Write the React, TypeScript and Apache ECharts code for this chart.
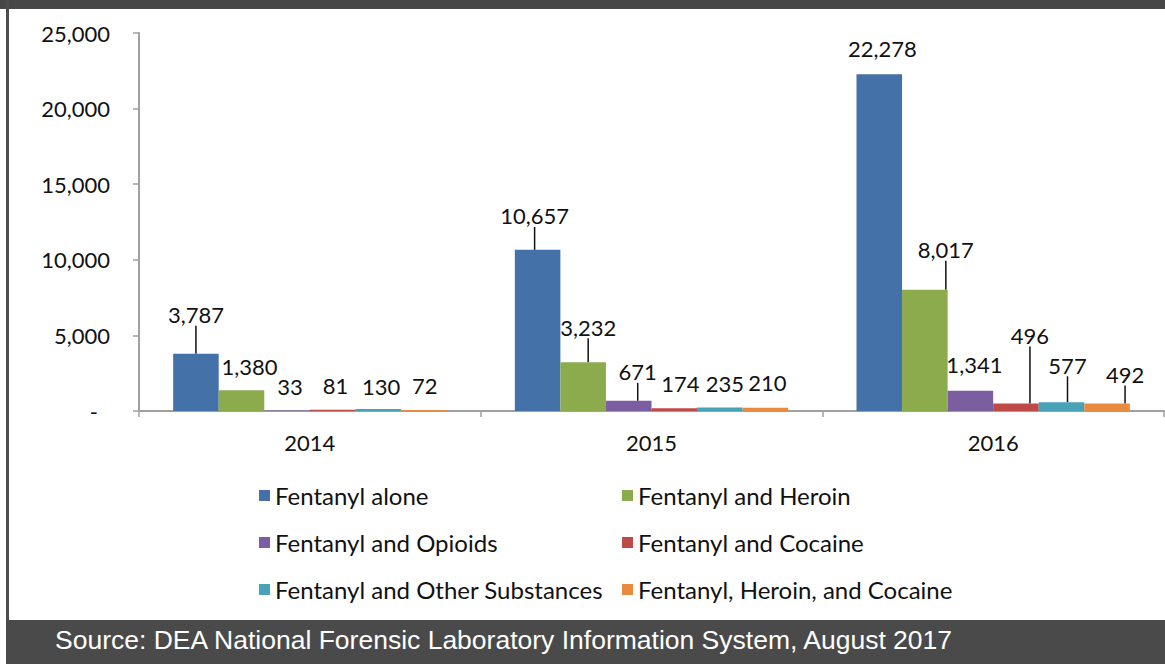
import React, { useEffect, useRef } from "react";
import * as echarts from "echarts";

// ---- data ----
const years = ["2014", "2015", "2016"];
const seriesNames = [
  "Fentanyl alone",
  "Fentanyl and Heroin",
  "Fentanyl and Opioids",
  "Fentanyl and Cocaine",
  "Fentanyl and Other Substances",
  "Fentanyl, Heroin, and Cocaine",
];
const fentanylAlone = [3787, 10657, 22278];
const fentanylAndHeroin = [1380, 3232, 8017];
const fentanylAndOpioids = [33, 671, 1341];
const fentanylAndCocaine = [81, 174, 496];
const fentanylAndOther = [130, 235, 577];
const fentanylHeroinCocaine = [72, 210, 492];
const yMin = 0;
const yMax = 25000;
const yStep = 5000;
const sourceText = "Source: DEA National Forensic Laboratory Information System, August 2017";

// ---- styles ----
const colors = ["#4471a8", "#8bab4d", "#7b5e9f", "#bd4a47", "#48a2b8", "#e98a3e"];
// label shifts [dx, dy, leaderLine] per series / year (Excel moved labels)
const labelShifts: [number, number, boolean][][] = [
  [[0, -23, true], [-3, -18, true], [3, -10, false]],
  [[8, -8, false], [5, -19, true], [21, -24, true]],
  [[3, -8, false], [9, -13, true], [4, -10, false]],
  [[3, -8, false], [6, -9, false], [14, -52, true]],
  [[3, -7, false], [5, -8, false], [6, -21, true]],
  [[1, -8, false], [2, -9, false], [18, -13, true]],
];
const FONT = "Lato, 'Open Sans', sans-serif";

export default function App() {
  const ref = useRef<HTMLDivElement>(null);
  useEffect(() => {
    document.body.style.margin = "0";
    const chart = echarts.init(ref.current!, undefined, { renderer: "svg" });
    const allValues = [
      fentanylAlone,
      fentanylAndHeroin,
      fentanylAndOpioids,
      fentanylAndCocaine,
      fentanylAndOther,
      fentanylHeroinCocaine,
    ];
    const series = allValues.map((vals, s) => ({
      name: seriesNames[s],
      type: "bar",
      barGap: "0%",
      barCategoryGap: "20%",
      itemStyle: { color: colors[s] },
      label: {
        show: true,
        position: "top",
        distance: 5,
        fontFamily: FONT,
        fontSize: 22,
        color: "#111",
        formatter: (p: any) => Number(p.value).toLocaleString("en-US"),
      },
      labelLine: { show: false, lineStyle: { color: "#111", width: 1.5 } },
      labelLayout: (p: any) => {
        const sh = labelShifts[p.seriesIndex][p.dataIndex];
        return { dx: sh[0], dy: sh[1] };
      },
      data: vals.map((v, i) => ({
        value: v,
        labelLine: { show: labelShifts[s][i][2], lineStyle: { color: "#111", width: 1.5 } },
      })),
    }));
    const legendCommon = {
      orient: "vertical",
      icon: "rect",
      itemWidth: 11,
      itemHeight: 11,
      itemGap: 20,
      textStyle: { fontFamily: FONT, fontSize: 24, color: "#111", lineHeight: 27 },
      selectedMode: false,
    };
    chart.setOption({
      animation: false,
      backgroundColor: "#ffffff",
      grid: { left: 139, right: 1, top: 33, bottom: 253, containLabel: false },
      xAxis: {
        type: "category",
        data: years,
        axisLine: { lineStyle: { color: "#a0a0a0", width: 2 } },
        axisTick: { show: true, alignWithLabel: false, length: 6, lineStyle: { color: "#a0a0a0", width: 1.5 } },
        axisLabel: { fontFamily: FONT, fontSize: 22, color: "#111", margin: 20 },
      },
      yAxis: {
        type: "value",
        min: yMin,
        max: yMax,
        interval: yStep,
        splitLine: { show: false },
        axisLine: { show: true, lineStyle: { color: "#a0a0a0", width: 2 } },
        axisTick: { show: true, length: 6, lineStyle: { color: "#a0a0a0", width: 1.5 } },
        axisLabel: {
          fontFamily: FONT,
          fontSize: 22,
          color: "#111",
          margin: 29,
          formatter: (v: number) => (v === 0 ? "{d|-}" : v.toLocaleString("en-US")),
          rich: { d: { fontFamily: FONT, fontSize: 22, color: "#111", padding: [0, 12, 0, 0] } },
        },
      },
      legend: [
        { ...legendCommon, left: 254, top: 477, data: [seriesNames[0], seriesNames[2], seriesNames[4]] },
        { ...legendCommon, left: 617, top: 477, data: [seriesNames[1], seriesNames[3], seriesNames[5]] },
      ],
      graphic: [
        { type: "rect", left: 0, top: 0, shape: { width: 1165, height: 9 }, style: { fill: "#474747" }, silent: true },
        { type: "rect", left: 6, top: 0, shape: { width: 3, height: 620 }, style: { fill: "#4d4d4d" }, silent: true },
        { type: "rect", left: 6, top: 620, shape: { width: 1159, height: 44 }, style: { fill: "#4a4a4a" }, silent: true },
        {
          type: "text",
          left: 55,
          top: 626,
          style: {
            text: sourceText,
            fill: "#ffffff",
            font: "26.5px 'Liberation Sans', Arial, sans-serif",
          },
          silent: true,
        },
      ],
      series,
    });
    return () => chart.dispose();
  }, []);
  return (
    <div
      ref={ref}
      style={{ position: "absolute", left: 0, top: 0, width: 1165, height: 664 }}
    />
  );
}
